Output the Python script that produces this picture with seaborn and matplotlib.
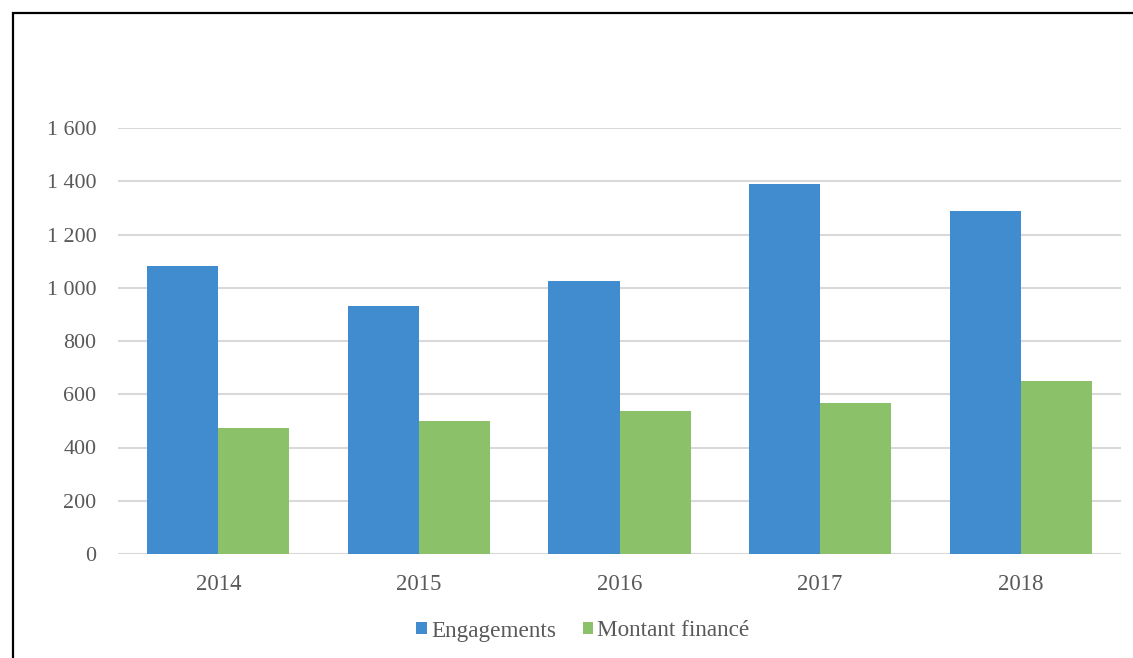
import matplotlib
matplotlib.use("Agg")
import matplotlib.pyplot as plt
from matplotlib.patches import Rectangle
from matplotlib.ticker import FuncFormatter, MultipleLocator
import seaborn as sns
import pandas as pd

years = ["2014", "2015", "2016", "2017", "2018"]
engagements = [1080, 930, 1025, 1390, 1288]
montant_finance = [475, 500, 537, 567, 650]
series_names = ["Engagements", "Montant financé"]

colors = ["#418BCF", "#8BC168"]
text_gray = "#595959"
grid_gray = "#D9D9D9"

df = pd.DataFrame({
    "annee": years * 2,
    "valeur": engagements + montant_finance,
    "serie": [series_names[0]] * len(years) + [series_names[1]] * len(years),
})

sns.set_theme(style="white")
plt.rcParams["font.family"] = ["Liberation Serif", "DejaVu Serif"]

W, H = 1133, 658
fig = plt.figure(figsize=(W / 100, H / 100), dpi=100)
ax = fig.add_axes([118 / W, 1 - 554 / H, (1121 - 118) / W, (554 - 128) / H])

sns.barplot(data=df, x="annee", y="valeur", hue="serie", order=years,
            hue_order=series_names, palette=colors, saturation=1,
            width=0.708, gap=0, ax=ax, legend=False,
            edgecolor="none", linewidth=0)

ax.set_xlim(-0.5, len(years) - 0.5)
ax.set_ylim(0, 1600)
ax.yaxis.set_major_locator(MultipleLocator(200))
ax.yaxis.set_major_formatter(FuncFormatter(lambda v, _: f"{int(v):,}".replace(",", " ")))
ax.grid(axis="y", color=grid_gray, linewidth=1.5)
ax.set_axisbelow(True)
for s in ax.spines.values():
    s.set_visible(False)
ax.set_xlabel("")
ax.set_ylabel("")
ax.tick_params(axis="y", length=0, pad=15.5, labelsize=15.8, labelcolor=text_gray)
ax.tick_params(axis="x", length=0, pad=14.5, labelsize=16.5, labelcolor=text_gray)

handles = [Rectangle((0, 0), 1, 1, facecolor=c, edgecolor="none") for c in colors]
fig.legend(handles, series_names, loc="center", bbox_to_anchor=(583 / W, 1 - 631 / H),
           ncol=2, frameon=False, fontsize=16.7, labelcolor=text_gray,
           handlelength=0.45, handleheight=0.45, handletextpad=0.18, columnspacing=1.15)

# black frame around the chart area (open on the right and bottom edges)
fig.add_artist(Rectangle((12.5 / W, -0.1), 1.2, 1 - 12.5 / H + 0.1,
                         transform=fig.transFigure, fill=False,
                         edgecolor="black", linewidth=1.6))

fig.savefig("out.png", dpi=100, facecolor="white")
